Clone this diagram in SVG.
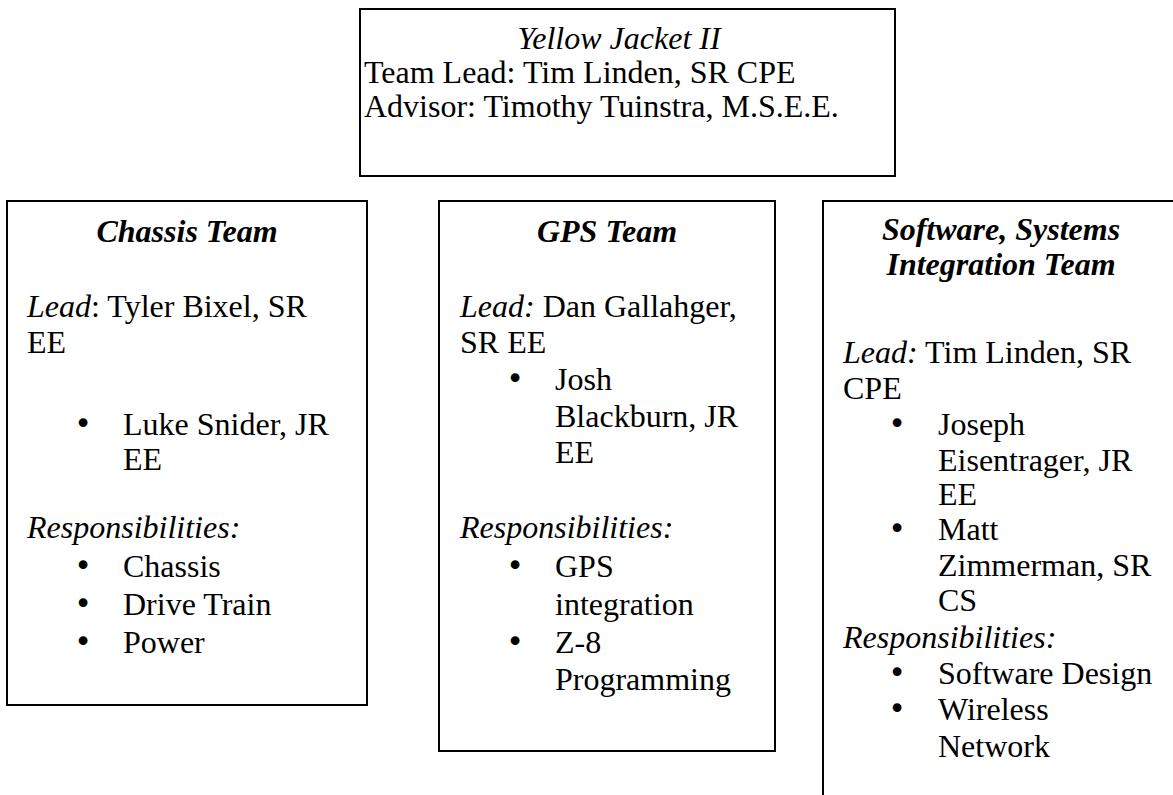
<svg xmlns="http://www.w3.org/2000/svg" width="1173" height="795" viewBox="0 0 1173 795">
<style>
.box{fill:#fff;stroke:#000;stroke-width:2}
text{font-family:"Liberation Serif","Times New Roman",serif;font-size:32px;fill:#000}
.i{font-style:italic}
.bi{font-style:italic;font-weight:bold}
.c{text-anchor:middle}
.b{font-family:"DejaVu Sans",sans-serif;font-size:30px;text-anchor:middle}
</style>
<rect width="1173" height="795" fill="#fff"/>
<g id="connectors"></g>
<g id="node-top">
<rect class="box" x="360" y="9" width="535" height="167"/>
<text class="i c" x="619" y="49">Yellow Jacket II</text>
<text x="364" y="83">Team Lead: Tim Linden, SR CPE</text>
<text x="364" y="117">Advisor: Timothy Tuinstra, M.S.E.E.</text>
</g>
<g id="node-chassis">
<rect class="box" x="7" y="201" width="360" height="504"/>
<text class="bi c" x="187" y="242">Chassis Team</text>
<text x="27" y="317"><tspan class="i">Lead</tspan>: Tyler Bixel, SR</text>
<text x="27" y="353">EE</text>
<text class="b" x="83" y="434">•</text><text x="123" y="435">Luke Snider, JR</text>
<text x="123" y="470">EE</text>
<text class="i" x="27" y="538">Responsibilities:</text>
<text class="b" x="83" y="576">•</text><text x="123" y="577">Chassis</text>
<text class="b" x="83" y="614">•</text><text x="123" y="615">Drive Train</text>
<text class="b" x="83" y="652">•</text><text x="123" y="653">Power</text>
</g>
<g id="node-gps">
<rect class="box" x="439" y="201" width="336" height="550"/>
<text class="bi c" x="607" y="242">GPS Team</text>
<text x="460" y="317"><tspan class="i">Lead:</tspan> Dan Gallahger,</text>
<text x="460" y="353">SR EE</text>
<text class="b" x="515" y="389">•</text><text x="555" y="390">Josh</text>
<text x="555" y="427">Blackburn, JR</text>
<text x="555" y="463">EE</text>
<text class="i" x="460" y="538">Responsibilities:</text>
<text class="b" x="515" y="576">•</text><text x="555" y="577">GPS</text>
<text x="555" y="615">integration</text>
<text class="b" x="515" y="652">•</text><text x="555" y="653">Z-8</text>
<text x="555" y="690">Programming</text>
</g>
<g id="node-software">
<rect class="box" x="823" y="201" width="360" height="610"/>
<text class="bi c" x="1001" y="240">Software, Systems</text>
<text class="bi c" x="1001" y="275">Integration Team</text>
<text x="843" y="363"><tspan class="i">Lead:</tspan> Tim Linden, SR</text>
<text x="843" y="399">CPE</text>
<text class="b" x="897" y="434">•</text><text x="938" y="435">Joseph</text>
<text x="938" y="471">Eisentrager, JR</text>
<text x="938" y="505">EE</text>
<text class="b" x="897" y="539">•</text><text x="938" y="540">Matt</text>
<text x="938" y="576">Zimmerman, SR</text>
<text x="938" y="611">CS</text>
<text class="i" x="843" y="648">Responsibilities:</text>
<text class="b" x="897" y="683">•</text><text x="938" y="684">Software Design</text>
<text class="b" x="897" y="719">•</text><text x="938" y="720">Wireless</text>
<text x="938" y="757">Network</text>
</g>
</svg>
